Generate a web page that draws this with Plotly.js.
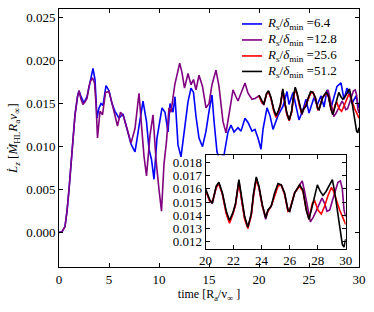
<!DOCTYPE html>
<html>
<head>
<meta charset="utf-8">
<script src="https://cdn.plot.ly/plotly-3.0.1.min.js"></script>
<style>html,body{margin:0;padding:0;background:#fff;}</style>
</head>
<body>
<div id="chart" style="width:374px;height:312px;"></div>
<script>
// Series 1: R_s/delta_min = 6.4 (blue)
const tBlue = [0,0.3,0.6,0.8,1.0,1.2,1.4,1.6,1.85,2.0,2.2,2.5,2.8,3.1,3.4,3.6,3.8,4.0,4.2,4.4,4.7,5.0,5.3,5.6,6.0,6.4,6.8,7.2,7.6,8.0,8.4,8.75,9.0,9.25,9.5,9.8,10.08,10.3,10.6,10.9,11.1,11.4,11.6,11.9,12.2,12.55,12.9,13.2,13.45,13.7,14.0,14.35,14.7,15.0,15.3,15.5,15.8,16.0,16.5,16.9,17.2,17.5,17.9,18.2,18.6,18.9,19.3,19.6,19.9,20.2,20.4,20.8,21.1,21.4,21.9,22.4,22.8,23.0,23.4,23.7,24.0,24.4,24.7,25.0,25.5,25.8,26.2,26.5,26.8,27.2,27.5,27.8,28.2,28.5,28.8,29.1,29.3,29.7,30.0];
const vBlue = [0,0.0001,0.0007,0.0025,0.0050,0.0080,0.0110,0.0137,0.0158,0.0165,0.0158,0.0151,0.0158,0.0175,0.0191,0.0178,0.0133,0.0145,0.0150,0.0148,0.0171,0.0165,0.0150,0.0141,0.0133,0.0138,0.0121,0.0103,0.0094,0.0125,0.0153,0.0129,0.0097,0.0085,0.0062,0.0110,0.0133,0.0145,0.0140,0.0117,0.0150,0.0140,0.0158,0.0102,0.0088,0.0120,0.0152,0.0168,0.0163,0.0135,0.0110,0.0100,0.0118,0.0141,0.0160,0.0130,0.0094,0.0087,0.0090,0.0117,0.0125,0.0117,0.0122,0.0118,0.0133,0.0128,0.0118,0.0120,0.0110,0.0097,0.0120,0.0145,0.0136,0.0120,0.0136,0.0147,0.0164,0.0149,0.0163,0.0147,0.0131,0.0143,0.0155,0.0139,0.0157,0.0148,0.0159,0.0146,0.0166,0.0145,0.0159,0.0170,0.0174,0.0155,0.0168,0.0159,0.0150,0.0159,0.0145];

// Series 2: R_s/delta_min = 12.8 (purple)
const tPurple = [0,0.3,0.6,0.8,1.0,1.2,1.4,1.6,1.85,2.0,2.2,2.4,2.6,2.8,3.0,3.15,3.35,3.55,3.7,3.85,4.1,4.35,4.65,5.0,5.35,5.6,5.85,6.15,6.45,6.8,7.2,7.6,8.0,8.2,8.5,8.75,9.1,9.4,9.7,10.0,10.25,10.5,10.75,11.0,11.2,11.58,11.9,12.07,12.3,12.55,12.9,13.2,13.45,13.7,14.0,14.35,14.7,15.0,15.3,15.7,16.0,16.4,16.7,17.0,17.4,17.7,17.9,18.2,18.6,18.9,19.3,19.6,20.0,20.29,20.48,20.76,20.95,21.2,21.48,21.71,21.95,22.14,22.38,22.62,22.79,23.02,23.26,23.43,23.62,23.81,24.05,24.29,24.45,24.69,24.93,25.17,25.4,25.64,25.88,26.0,26.36,26.71,26.9,27.07,27.31,27.48,27.71,27.95,28.14,28.31,28.5,28.67,28.86,29.05,29.29,29.45,29.62,29.76,29.88,30.0];
const vPurple = [0,0.0001,0.0007,0.0025,0.0050,0.0080,0.0110,0.0137,0.0158,0.0165,0.0155,0.0149,0.0152,0.0156,0.0170,0.0176,0.0180,0.0174,0.0150,0.0110,0.0141,0.0137,0.0163,0.0164,0.0148,0.0135,0.0124,0.0140,0.0135,0.0121,0.0104,0.0121,0.0162,0.0132,0.0089,0.0066,0.0113,0.0137,0.0085,0.0050,0.0025,0.0080,0.0106,0.0145,0.0140,0.0172,0.0191,0.0197,0.0186,0.0168,0.0185,0.0172,0.0178,0.0166,0.0183,0.0170,0.0145,0.0150,0.0172,0.0189,0.0170,0.0129,0.0116,0.0139,0.0166,0.0158,0.0153,0.0162,0.0174,0.0162,0.0155,0.0156,0.0159,0.0151,0.0149,0.0161,0.0164,0.0156,0.0142,0.0135,0.0141,0.0148,0.0166,0.0148,0.0138,0.0131,0.0140,0.0156,0.0168,0.0161,0.0147,0.0137,0.0143,0.0147,0.0156,0.0163,0.0163,0.0156,0.0144,0.0143,0.0157,0.0163,0.0166,0.0158,0.0144,0.0135,0.0139,0.0144,0.0149,0.0153,0.0149,0.0143,0.0144,0.0151,0.0159,0.0165,0.0166,0.0160,0.0144,0.0139];

// Series 3: R_s/delta_min = 25.6 (red)
const tRed = [20.0,20.29,20.48,20.76,20.95,21.2,21.48,21.71,21.95,22.14,22.38,22.62,22.79,23.02,23.26,23.43,23.62,23.81,24.05,24.29,24.45,24.69,24.93,25.17,25.4,25.64,25.88,26.0,26.36,26.71,26.95,27.19,27.38,27.62,27.79,28.02,28.26,28.5,28.74,28.98,29.14,29.33,29.57,29.81,30.0];
const vRed = [0.0159,0.0151,0.0150,0.0161,0.0164,0.0156,0.0141,0.0134,0.0141,0.0148,0.0165,0.0148,0.0137,0.0130,0.0140,0.0155,0.0167,0.0161,0.0147,0.0139,0.0143,0.0147,0.0155,0.0162,0.0163,0.0156,0.0143,0.0144,0.0157,0.0162,0.0158,0.0144,0.0137,0.0149,0.0151,0.0144,0.0141,0.0147,0.0155,0.0161,0.0158,0.0151,0.0144,0.0138,0.0133];

// Series 4: R_s/delta_min = 51.2 (black)
const tBlack = [20.0,20.29,20.48,20.76,20.95,21.2,21.48,21.71,21.95,22.14,22.38,22.62,22.79,23.02,23.26,23.43,23.62,23.81,24.05,24.29,24.45,24.69,24.93,25.17,25.4,25.64,25.88,26.0,26.36,26.71,26.95,27.19,27.38,27.62,27.79,27.98,28.19,28.38,28.6,28.86,29.05,29.21,29.45,29.6,29.76,29.88,30.0];
const vBlack = [0.0160,0.0152,0.0149,0.0162,0.0165,0.0157,0.0143,0.0136,0.0142,0.0149,0.0167,0.0149,0.0139,0.0131,0.0141,0.0157,0.0169,0.0162,0.0148,0.0138,0.0144,0.0147,0.0157,0.0164,0.0163,0.0157,0.0144,0.0143,0.0157,0.0163,0.0159,0.0144,0.0137,0.0147,0.0154,0.0163,0.0158,0.0155,0.0158,0.0163,0.0167,0.0158,0.0142,0.0129,0.0118,0.0116,0.0122];

const resolutions = ['6.4','12.8','25.6','51.2'];
const names = resolutions.map(r => '<i>R</i><sub>s</sub>/<i>δ</i><sub>min</sub> =' + r);
const colors = ['#0000ff','#800080','#ff0000','#000000'];
const T = [tBlue,tPurple,tRed,tBlack];
const V = [vBlue,vPurple,vRed,vBlack];

const traces = [];
for (let i=0;i<4;i++){
  traces.push({x:T[i],y:V[i],type:'scatter',mode:'lines',name:names[i],
    line:{color:colors[i],width:1.6},xaxis:'x',yaxis:'y',showlegend:false});
}
for (let i=1;i<4;i++){
  traces.push({x:T[i],y:V[i],type:'scatter',mode:'lines',name:names[i],
    line:{color:colors[i],width:1.6},xaxis:'x2',yaxis:'y2',showlegend:false});
}

const fam = '"Liberation Serif", "DejaVu Serif", serif';
const font = {family:fam, size:13, color:'#000'};
const axBase = {showline:true,linecolor:'#000',linewidth:1,mirror:'ticks',ticks:'inside',ticklen:4,tickcolor:'#000',showgrid:false,zeroline:false};

// hand-laid legend (matplotlib-style compact spacing)
const legRowY = [0.942, 0.880, 0.818, 0.758];
const shapes = [], annotations = [];
for (let i=0;i<4;i++){
  shapes.push({type:'line',xref:'paper',yref:'paper',x0:0.61,x1:0.677,y0:legRowY[i],y1:legRowY[i],
    line:{color:colors[i],width:1.6}});
  annotations.push({xref:'paper',yref:'paper',x:0.688,y:legRowY[i],xanchor:'left',yanchor:'middle',
    text:names[i],showarrow:false,font:{family:fam,size:13,color:'#000'}});
}

const layout = {
  width:374,height:312,
  margin:{l:59,r:15,t:9,b:45},
  paper_bgcolor:'#fff',plot_bgcolor:'#fff',
  font:font,
  showlegend:false,
  shapes:shapes, annotations:annotations,
  xaxis:Object.assign({},axBase,{domain:[0,1],range:[0,30],dtick:5,tick0:0,
    title:{text:'time [R<sub>a</sub>/v<sub>∞</sub> ]',font:{family:fam,size:12},standoff:4}}),
  yaxis:Object.assign({},axBase,{domain:[0,1],range:[-0.004,0.026],dtick:0.005,tick0:0,tickformat:'.3f',
    title:{text:'<i>L̇</i><sub><i>z</i></sub> [<i>Ṁ</i><sub>HL</sub><i>R</i><sub>a</sub><i>v</i><sub>∞</sub>]',font:{family:fam,size:13},standoff:5}}),
  xaxis2:Object.assign({},axBase,{domain:[0.4885,0.9556],range:[20,30],dtick:2,tick0:20,anchor:'y2'}),
  yaxis2:Object.assign({},axBase,{domain:[0.0709,0.4326],range:[0.01147,0.01853],dtick:0.001,tick0:0.012,tickformat:'.3f',anchor:'x2'})
};

Plotly.newPlot('chart',traces,layout,{displayModeBar:false,staticPlot:true});
</script>
</body>
</html>
